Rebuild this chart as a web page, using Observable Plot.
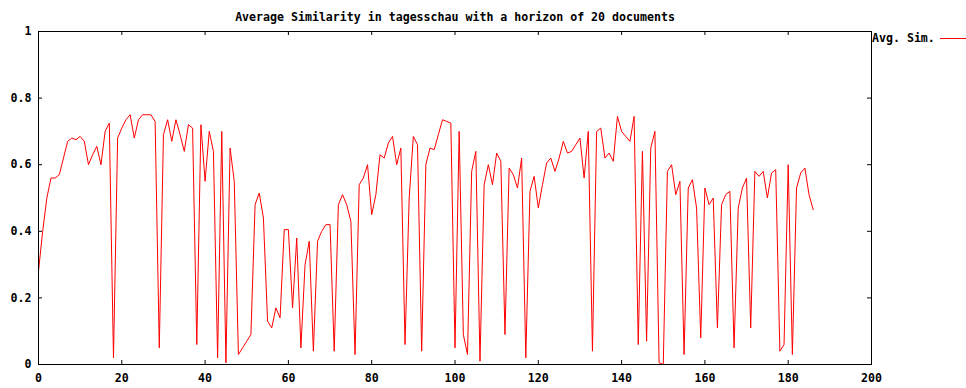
<!DOCTYPE html>
<html>
<head>
<meta charset="utf-8">
<script src="https://cdn.jsdelivr.net/npm/d3@7"></script>
<script src="https://cdn.jsdelivr.net/npm/@observablehq/plot@0.6"></script>
<style>
  html, body { margin: 0; padding: 0; background: #fff; }
  #chart { position: relative; width: 966px; height: 388px; }
  #legend {
    position: absolute; left: 872px; top: 31px; height: 14px;
    display: flex; align-items: center;
    font: bold 11.6px "DejaVu Sans Mono", monospace; color: #000; white-space: nowrap;
  }
  #legend .swatch { display: inline-block; width: 26px; height: 0; border-top: 1px solid #ff0000; margin-left: 5px; }
</style>
</head>
<body>
<div id="chart"></div>
<script>
const title = "Average Similarity in tagesschau with a horizon of 20 documents";
const seriesName = "Avg. Sim.";

// Average similarity per document index (0..186)
const avgSim = [
  0.28, 0.40, 0.50, 0.56, 0.56, 0.57, 0.62, 0.67, 0.68, 0.675,
  0.685, 0.67, 0.60, 0.63, 0.655, 0.60, 0.70, 0.725, 0.02, 0.68,
  0.71, 0.735, 0.75, 0.68, 0.735, 0.75, 0.75, 0.75, 0.73, 0.05,
  0.69, 0.735, 0.67, 0.735, 0.69, 0.64, 0.72, 0.71, 0.06, 0.72,
  0.55, 0.70, 0.64, 0.02, 0.70, 0.005, 0.65, 0.55, 0.03, 0.05,
  0.07, 0.09, 0.48, 0.515, 0.44, 0.13, 0.11, 0.17, 0.14, 0.405,
  0.405, 0.17, 0.38, 0.05, 0.30, 0.37, 0.04, 0.37, 0.40, 0.42,
  0.42, 0.04, 0.48, 0.51, 0.48, 0.43, 0.03, 0.54, 0.56, 0.60,
  0.45, 0.51, 0.63, 0.62, 0.665, 0.685, 0.60, 0.65, 0.06, 0.50,
  0.685, 0.66, 0.04, 0.60, 0.65, 0.645, 0.69, 0.735, 0.73, 0.725,
  0.05, 0.70, 0.09, 0.03, 0.58, 0.64, 0.01, 0.54, 0.60, 0.54,
  0.635, 0.61, 0.09, 0.59, 0.57, 0.53, 0.62, 0.02, 0.52, 0.565,
  0.47, 0.54, 0.605, 0.62, 0.58, 0.62, 0.67, 0.635, 0.64, 0.66,
  0.68, 0.56, 0.70, 0.04, 0.70, 0.71, 0.62, 0.635, 0.61, 0.745,
  0.70, 0.685, 0.67, 0.745, 0.06, 0.64, 0.07, 0.65, 0.70, 0.005,
  0.0, 0.58, 0.60, 0.51, 0.55, 0.03, 0.53, 0.555, 0.47, 0.08,
  0.53, 0.48, 0.50, 0.11, 0.48, 0.51, 0.52, 0.05, 0.47, 0.53,
  0.56, 0.11, 0.58, 0.565, 0.58, 0.50, 0.575, 0.585, 0.04, 0.06,
  0.60, 0.03, 0.53, 0.575, 0.59, 0.51, 0.465
];

const xTicks = [0, 20, 40, 60, 80, 100, 120, 140, 160, 180, 200];
const yTicks = [0, 0.2, 0.4, 0.6, 0.8, 1];
const yTickLabels = ["0", "0.2", "0.4", "0.6", "0.8", "1"];

const W = 966, H = 388;
const mT = 31, mB = 24, mL = 38, mR = 95;
const plotH = H - mT - mB, plotW = W - mL - mR;
const tickLen = 4;
const fontFamily = '"DejaVu Sans Mono", monospace';

const chart = Plot.plot({
  width: W,
  height: H,
  marginTop: mT,
  marginBottom: mB,
  marginLeft: mL,
  marginRight: mR,
  style: { fontFamily, fontSize: "11.6px", fontWeight: "bold", background: "#fff", color: "#000", overflow: "visible" },
  x: { domain: [0, 200] },
  y: { domain: [0, 1] },
  marks: [
    Plot.line(avgSim, { x: (d, i) => i, y: d => d, stroke: "#ff0000", strokeWidth: 1 }),
    // inward tick marks on all four sides (gnuplot style)
    Plot.ruleX(xTicks, { insetTop: plotH - tickLen, stroke: "#000" }),
    Plot.ruleX(xTicks, { insetBottom: plotH - tickLen, stroke: "#000" }),
    Plot.ruleY(yTicks, { insetRight: plotW - tickLen, stroke: "#000" }),
    Plot.ruleY(yTicks, { insetLeft: plotW - tickLen, stroke: "#000" }),
    Plot.frame({ stroke: "#000" }),
    Plot.axisX({ ticks: xTicks, tickSize: 0, tickPadding: 9, tickFormat: d => String(d), label: null }),
    Plot.axisY({ ticks: yTicks, tickSize: 0, tickPadding: 7, tickFormat: d => yTickLabels[yTicks.indexOf(d)], label: null }),
    Plot.text([title], { frameAnchor: "top", dy: -18.5, text: d => d, fontSize: 11.6, fontWeight: "bold" })
  ]
});

const container = document.getElementById("chart");
container.appendChild(chart);

const legend = document.createElement("div");
legend.id = "legend";
legend.innerHTML = `<span>${seriesName}</span><span class="swatch"></span>`;
container.appendChild(legend);
</script>
</body>
</html>
